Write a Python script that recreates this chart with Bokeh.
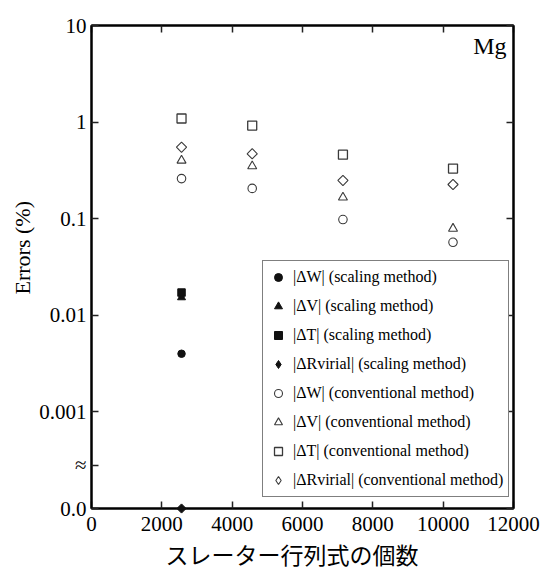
import math
from bokeh.plotting import figure
from bokeh.models import (FixedTicker, CustomJSTickFormatter, LinearAxis, LogAxis,
                          Range1d, Legend, LegendItem, Label, Title)
from bokeh.embed import file_html
from bokeh.resources import INLINE

# ---------------- data ----------------
conv_x = [2560, 4570, 7150, 10280]          # number of Slater determinants
conv_W = [0.26, 0.206, 0.098, 0.057]         # |ΔW| conventional
conv_V = [0.40, 0.35, 0.166, 0.079]          # |ΔV| conventional
conv_T = [1.09, 0.92, 0.46, 0.33]            # |ΔT| conventional
conv_R = [0.55, 0.47, 0.249, 0.226]          # |ΔRvirial| conventional

scal_x = [2560]
scal_W = [0.0040]
scal_V = [0.0153]
scal_T = [0.0172]
scal_R = [0.0]                               # shown on the "0.0" line

x_ticks = [0, 2000, 4000, 6000, 8000, 10000, 12000]
y_floor = 1e-4          # axis position labelled "0.0"
break_y = 10 ** -3.55   # axis-break mark
y_tick_values = [1e-4, break_y, 1e-3, 1e-2, 1e-1, 1, 10]
y_tick_labels = ["0.0", "≈", "0.001", "0.01", "0.1", "1", "10"]

labels = [
    "|ΔW| (scaling method)",
    "|ΔV| (scaling method)",
    "|ΔT| (scaling method)",
    "|ΔRvirial| (scaling method)",
    "|ΔW| (conventional method)",
    "|ΔV| (conventional method)",
    "|ΔT| (conventional method)",
    "|ΔRvirial| (conventional method)",
]

def floor_vals(vals):
    return [max(v, y_floor) for v in vals]

# ---------------- figure ----------------
p = figure(width=543, height=580, x_range=Range1d(0, 12000), y_range=Range1d(1e-4, 10),
           y_axis_type="log", output_backend="svg", toolbar_location=None,
           min_border_left=91, min_border_right=30, min_border_top=25, min_border_bottom=72)
p.xgrid.visible = False
p.ygrid.visible = False
p.outline_line_color = "black"
p.outline_line_width = 2
p.background_fill_color = "white"
p.border_fill_color = "white"

def style_axis(ax):
    ax.major_tick_in = 7
    ax.major_tick_out = 0
    ax.minor_tick_in = 0
    ax.minor_tick_out = 0
    ax.axis_line_width = 2
    ax.axis_line_color = "black"
    ax.major_tick_line_width = 1.5
    ax.major_tick_line_color = "#222222"
    ax.major_label_text_font = "Liberation Serif"
    ax.major_label_text_font_size = "21px"
    ax.major_label_text_color = "black"

xa = p.xaxis[0]
style_axis(xa)
xa.ticker = FixedTicker(ticks=x_ticks)
xa.major_label_standoff = 8

p.add_layout(Title(text="スレーター行列式の個数", align="left", offset=74,
                   text_font="Noto Sans CJK JP", text_font_size="23px",
                   text_font_style="normal", text_color="black", standoff=2), "below")

ya = p.yaxis[0]
style_axis(ya)
ya.ticker = FixedTicker(ticks=y_tick_values)
ya.formatter = CustomJSTickFormatter(args=dict(vals=y_tick_values, labs=y_tick_labels), code="""
    for (let i = 0; i < vals.length; i++) {
        if (Math.abs(Math.log10(tick) - Math.log10(vals[i])) < 1e-6) return labs[i];
    }
    return "";
""")
ya.major_label_standoff = 5

p.add_layout(Title(text="Errors (%)", align="left", offset=214, text_font="Liberation Serif",
                   text_font_size="22px", text_font_style="normal", text_color="black",
                   standoff=4), "left")

blank = CustomJSTickFormatter(code="return '';")
top = LinearAxis(ticker=FixedTicker(ticks=x_ticks), formatter=blank)
style_axis(top)
top.major_label_text_font_size = "0px"
top.major_label_standoff = 0
p.add_layout(top, "above")
right = LogAxis(ticker=FixedTicker(ticks=[v for v in y_tick_values if v != break_y]), formatter=blank)
style_axis(right)
right.major_label_text_font_size = "0px"
right.major_label_standoff = 0
p.add_layout(right, "right")

# ---------------- markers ----------------
filled = "#111111"
openc = "#3a3a3a"
diam = math.pi / 4
r1 = p.scatter(scal_x, floor_vals(scal_W), marker="circle", size=7.5, fill_color=filled, line_color=filled)
r2 = p.scatter(scal_x, floor_vals(scal_V), marker="triangle", size=8, fill_color=filled, line_color=filled)
r3 = p.scatter(scal_x, floor_vals(scal_T), marker="square", size=7.5, fill_color=filled, line_color=filled)
r4 = p.scatter(scal_x, floor_vals(scal_R), marker="square", angle=diam, size=6.5,
               fill_color=filled, line_color=filled, level="overlay")
r5 = p.scatter(conv_x, conv_W, marker="circle", size=8.5, fill_color=None, line_color=openc, line_width=1.1)
r6 = p.scatter(conv_x, conv_V, marker="triangle", size=9, fill_color=None, line_color=openc, line_width=1.1)
r7 = p.scatter(conv_x, conv_T, marker="square", size=9, fill_color=None, line_color=openc, line_width=1.3)
r8 = p.scatter(conv_x, conv_R, marker="square", angle=diam, size=7.2, fill_color=None,
               line_color=openc, line_width=1.1)

# legend swatches for the diamonds (legend glyphs are drawn unrotated); hidden on the plot
k4 = p.scatter(scal_x, floor_vals(scal_R), marker="diamond", size=9, fill_color=filled,
               line_color=filled, visible=False)
k8 = p.scatter(conv_x, conv_R, marker="diamond", size=11, fill_color=None, line_color=openc,
               line_width=1.1, visible=False)

rends = [r1, r2, r3, k4, r5, r6, r7, k8]
items = [LegendItem(label=lab, renderers=[r]) for lab, r in zip(labels, rends)]
legend = Legend(items=items, location=(171, 11), padding=5, spacing=7, margin=0,
                glyph_width=20, glyph_height=22, label_height=20, label_standoff=5,
                label_text_font="Liberation Serif", label_text_font_size="16px",
                label_text_color="black", border_line_color="black", border_line_width=1,
                background_fill_color="white", background_fill_alpha=1)
p.add_layout(legend)

p.add_layout(Label(x=12000, y=10, x_offset=-7, y_offset=-7, text="Mg", text_align="right",
                   text_baseline="top", text_font="Liberation Serif", text_font_size="24px",
                   text_color="black"))

open("out.html", "w").write(file_html(p, INLINE))
